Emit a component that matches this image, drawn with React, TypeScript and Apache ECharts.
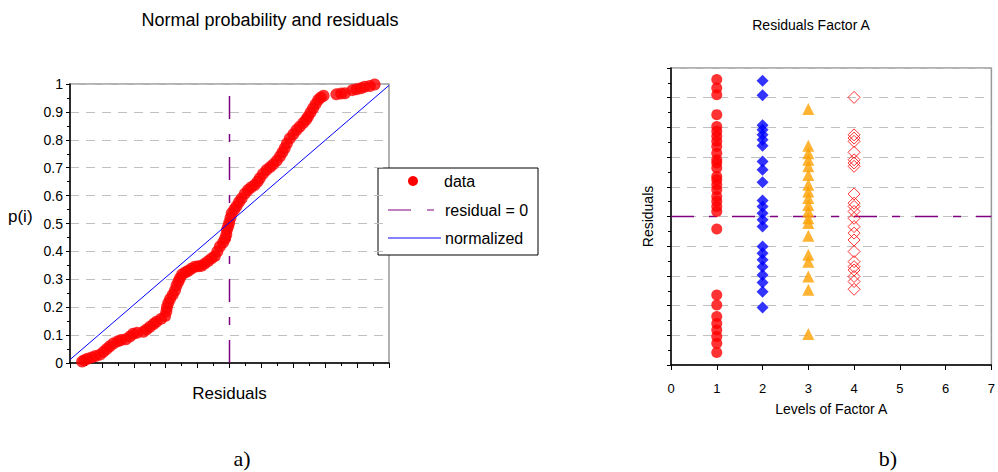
import React, { useEffect, useRef } from "react";
import * as echarts from "echarts";

// Normal probability plot (a)
const residuals = [
  -4.62, -4.55, -4.45, -4.32, -4.2, -4.06, -3.95, -3.85, -3.75, -3.64, -3.5, -3.4, -3.25, -3.12, -3.02,
  -2.9, -2.7, -2.6, -2.49, -2.38, -2.29, -2.15, -2.02, -1.98, -1.96, -1.92, -1.86, -1.78, -1.71, -1.66,
  -1.6, -1.55, -1.48, -1.38, -1.3, -1.2, -1.09, -0.98, -0.88, -0.78, -0.67, -0.56, -0.46, -0.38, -0.3,
  -0.2, -0.14, -0.1, -0.08, -0.04, -0.01, 0.03, 0.07, 0.15, 0.22, 0.3, 0.38, 0.48, 0.58, 0.68, 0.79,
  0.88, 0.95, 1.05, 1.16, 1.27, 1.37, 1.48, 1.58, 1.66, 1.73, 1.8, 1.89, 2.0, 2.1, 2.2, 2.31, 2.4, 2.46,
  2.54, 2.62, 2.7, 2.78, 2.86, 2.95, 3.35, 3.5, 3.62, 3.85, 3.98, 4.12, 4.24, 4.4, 4.55,
];
const pValues = [
  0.005, 0.01, 0.015, 0.02, 0.025, 0.03, 0.04, 0.05, 0.06, 0.07, 0.078, 0.082, 0.085, 0.095, 0.105,
  0.108, 0.112, 0.12, 0.13, 0.14, 0.148, 0.158, 0.168, 0.185, 0.2, 0.215, 0.23, 0.245, 0.26, 0.278,
  0.292, 0.305, 0.318, 0.325, 0.33, 0.338, 0.345, 0.347, 0.348, 0.356, 0.365, 0.375, 0.383, 0.4, 0.418,
  0.432, 0.445, 0.46, 0.478, 0.49, 0.503, 0.52, 0.537, 0.55, 0.562, 0.577, 0.59, 0.607, 0.62, 0.63, 0.638,
  0.65, 0.662, 0.678, 0.692, 0.702, 0.712, 0.725, 0.74, 0.755, 0.77, 0.787, 0.805, 0.82, 0.835, 0.847, 0.86, 0.872, 0.883,
  0.898, 0.913, 0.928, 0.943, 0.952, 0.958, 0.963, 0.966, 0.967, 0.978, 0.981, 0.985, 0.99, 0.993, 0.998,
];
const normalizedX = [-5, 5];
const normalizedP = [0.012, 0.995];
const zeroLineP = [0, 0.965];

// Residuals by level (b)
const level1 = [
  4.61, 4.33, 4.1, 3.43, 3.03, 2.87, 2.7, 2.53, 2.36, 2.13, 1.91, 1.8, 1.63, 1.35, 1.24, 1.07, 0.9, 0.67,
  0.51, 0.34, 0.17, -0.42, -2.64, -2.98, -3.37, -3.6, -3.82, -4.04, -4.27, -4.58,
];
const level2 = [
  4.57, 4.08, 3.07, 2.92, 2.75, 2.58, 2.38, 1.85, 1.57, 1.15, 0.54, 0.34, 0.11, -0.11, -0.34, -1.01,
  -1.24, -1.46, -1.69, -1.97, -2.22, -2.53, -3.06,
];
const level3 = [
  3.62, 2.38, 2.13, 1.91, 1.69, 1.4, 1.07, 0.84, 0.62, 0.39, 0.17, -0.06, -0.22, -0.65, -1.29, -1.52,
  -2.02, -2.47, -3.96,
];
const level4 = [
  4.01, 2.75, 2.64, 2.53, 2.16, 1.91, 1.8, 1.69, 0.76, 0.45, 0.34, 0.17, -0.06, -0.34, -0.56, -0.79,
  -1.18, -1.52, -1.69, -1.8, -2.02, -2.19, -2.45,
];
const levelsRange = [0, 7];

const FONT = "Arial, 'Liberation Sans', sans-serif";
const PURPLE = "#800080";
const DASH = [23, 15, 8, 15];

export default function App() {
  const ref = useRef<HTMLDivElement>(null);
  useEffect(() => {
    const chart = echarts.init(ref.current!, null, { renderer: "svg" });
    const axisLine = { show: true, onZero: false, lineStyle: { color: "#000", width: 1.5 } };
    const grid = { show: true, borderColor: "#999", borderWidth: 1.5, backgroundColor: "transparent" };
    const split = { show: true, lineStyle: { color: "#c0c0c0", type: [9, 7], width: 1 } };
    chart.setOption({
      animation: false,
      backgroundColor: "#fff",
      title: [
        {
          text: "Normal probability and residuals",
          left: 270,
          top: 11,
          textAlign: "center",
          padding: 0,
          textStyle: { fontSize: 18, fontWeight: "normal", fontFamily: FONT, color: "#000" },
        },
        {
          text: "Residuals Factor A",
          left: 811,
          top: 18,
          textAlign: "center",
          padding: 0,
          textStyle: { fontSize: 14, fontWeight: "normal", fontFamily: FONT, color: "#000" },
        },
      ],
      grid: [
        { ...grid, left: 70, top: 84, width: 319, height: 279 },
        { ...grid, left: 671, top: 68, width: 326, height: 297 },
      ],
      xAxis: [
        {
          gridIndex: 0,
          type: "value",
          min: normalizedX[0],
          max: normalizedX[1],
          interval: 1,
          axisLine,
          axisTick: { show: true, length: 5, lineStyle: { color: "#000" } },
          minorTick: { show: true, splitNumber: 2, length: 3, lineStyle: { color: "#000" } },
          axisLabel: { show: false },
          splitLine: { show: false },
          name: "Residuals",
          nameLocation: "middle",
          nameGap: 22,
          nameTextStyle: { fontSize: 17, color: "#000", fontFamily: FONT },
        },
        {
          gridIndex: 1,
          type: "value",
          min: levelsRange[0],
          max: levelsRange[1],
          interval: 1,
          axisLine,
          axisTick: { show: true, length: 5, lineStyle: { color: "#000" } },
          axisLabel: { fontSize: 13, color: "#000", fontFamily: FONT, margin: 17 },
          splitLine: { show: false },
          name: "Levels of Factor A",
          nameLocation: "middle",
          nameGap: 37,
          nameTextStyle: { fontSize: 14, color: "#000", fontFamily: FONT },
        },
      ],
      yAxis: [
        {
          gridIndex: 0,
          type: "value",
          min: 0,
          max: 1,
          interval: 0.1,
          axisLine,
          axisTick: { show: true, length: 4, lineStyle: { color: "#000" } },
          minorTick: { show: true, splitNumber: 2, length: 3, lineStyle: { color: "#000" } },
          axisLabel: {
            fontSize: 14,
            color: "#000",
            fontFamily: FONT,
            margin: 7,
            formatter: (v: number) => String(Math.round(v * 10) / 10),
          },
          splitLine: split,
        },
        {
          gridIndex: 1,
          type: "value",
          min: -5,
          max: 5,
          interval: 1,
          axisLine,
          axisTick: { show: true, length: 4, lineStyle: { color: "#000" } },
          minorTick: { show: true, splitNumber: 2, length: 3, lineStyle: { color: "#000" } },
          axisLabel: { show: false },
          splitLine: split,
          name: "Residuals",
          nameLocation: "middle",
          nameGap: 16,
          nameTextStyle: { fontSize: 14, color: "#000", fontFamily: FONT },
        },
      ],
      series: [
        {
          name: "residual = 0",
          type: "line",
          xAxisIndex: 0,
          yAxisIndex: 0,
          symbol: "none",
          data: zeroLineP.map((p) => [0, p]),
          lineStyle: { color: PURPLE, width: 1.5, type: DASH },
          z: 2,
        },
        {
          name: "normalized",
          type: "line",
          xAxisIndex: 0,
          yAxisIndex: 0,
          symbol: "none",
          data: normalizedX.map((x, i) => [x, normalizedP[i]]),
          lineStyle: { color: "#0000ff", width: 1 },
          z: 4,
        },
        {
          name: "data",
          type: "scatter",
          xAxisIndex: 0,
          yAxisIndex: 0,
          symbol: "circle",
          symbolSize: 12,
          data: residuals.map((r, i) => [r, pValues[i]]),
          itemStyle: { color: "#ff0000" },
          z: 3,
        },
        {
          name: "zero",
          type: "line",
          xAxisIndex: 1,
          yAxisIndex: 1,
          symbol: "none",
          data: levelsRange.map((x) => [x, 0]),
          lineStyle: { color: PURPLE, width: 1.5, type: DASH },
          z: 2,
        },
        {
          name: "Level 1",
          type: "scatter",
          xAxisIndex: 1,
          yAxisIndex: 1,
          symbol: "circle",
          symbolSize: 11,
          data: level1.map((v) => [1, v]),
          itemStyle: { color: "#ff0000" },
          z: 3,
        },
        {
          name: "Level 2",
          type: "scatter",
          xAxisIndex: 1,
          yAxisIndex: 1,
          symbol: "diamond",
          symbolSize: 12,
          data: level2.map((v) => [2, v]),
          itemStyle: { color: "#0000ff" },
          z: 3,
        },
        {
          name: "Level 3",
          type: "scatter",
          xAxisIndex: 1,
          yAxisIndex: 1,
          symbol: "triangle",
          symbolSize: 12,
          data: level3.map((v) => [3, v]),
          itemStyle: { color: "#ffa000" },
          z: 3,
        },
        {
          name: "Level 4",
          type: "scatter",
          xAxisIndex: 1,
          yAxisIndex: 1,
          symbol: "diamond",
          symbolSize: 12,
          data: level4.map((v) => [4, v]),
          itemStyle: { color: "rgba(0,0,0,0)", borderColor: "#ff0000", borderWidth: 1 },
          z: 3,
        },
      ],
      graphic: [
        {
          type: "text",
          left: 8,
          top: 208,
          style: { text: "p(i)", fontSize: 17, fontFamily: FONT, fill: "#000" },
        },
        {
          type: "text",
          x: 242,
          y: 458,
          style: {
            text: "a)",
            fontSize: 22,
            fontFamily: "'Liberation Serif', 'Times New Roman', serif",
            fill: "#000",
            align: "center",
            verticalAlign: "middle",
          },
        },
        {
          type: "text",
          x: 888,
          y: 458,
          style: {
            text: "b)",
            fontSize: 22,
            fontFamily: "'Liberation Serif', 'Times New Roman', serif",
            fill: "#000",
            align: "center",
            verticalAlign: "middle",
          },
        },
        {
          type: "group",
          z: 100,
          children: [
            {
              type: "rect",
              shape: { x: 378, y: 168, width: 160, height: 87 },
              style: { fill: "#fff", stroke: "#000", lineWidth: 1 },
            },
            { type: "circle", shape: { cx: 413, cy: 181, r: 5 }, style: { fill: "#ff0000" } },
            {
              type: "text",
              x: 444,
              y: 181,
              style: { text: "data", fontSize: 16, fontFamily: FONT, fill: "#000", verticalAlign: "middle" },
            },
            {
              type: "line",
              shape: { x1: 388, y1: 210, x2: 411, y2: 210 },
              style: { stroke: PURPLE, lineWidth: 1 },
            },
            {
              type: "line",
              shape: { x1: 427, y1: 210, x2: 434, y2: 210 },
              style: { stroke: PURPLE, lineWidth: 1 },
            },
            {
              type: "text",
              x: 445,
              y: 210,
              style: { text: "residual = 0", fontSize: 16, fontFamily: FONT, fill: "#000", verticalAlign: "middle" },
            },
            {
              type: "line",
              shape: { x1: 388, y1: 238, x2: 441, y2: 238 },
              style: { stroke: "#5a5aff", lineWidth: 1.5 },
            },
            {
              type: "text",
              x: 445,
              y: 238,
              style: { text: "normalized", fontSize: 16, fontFamily: FONT, fill: "#000", verticalAlign: "middle" },
            },
          ],
        },
      ],
    });
    return () => chart.dispose();
  }, []);
  return (
    <div
      ref={ref}
      style={{ position: "fixed", left: 0, top: 0, width: 998, height: 472, background: "#fff" }}
    />
  );
}
